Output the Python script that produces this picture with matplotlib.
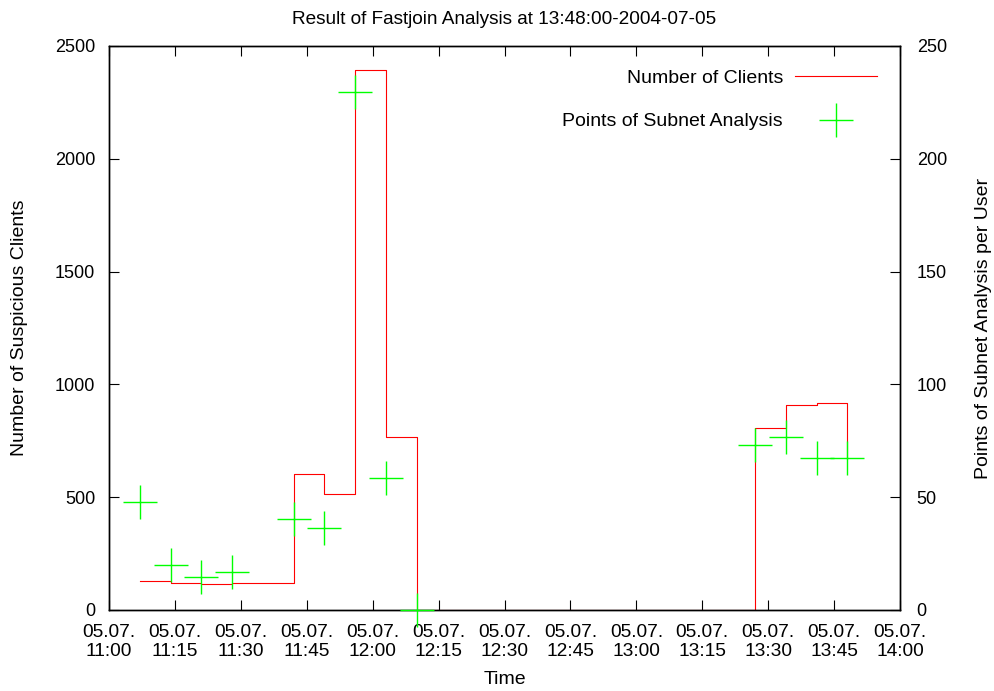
import matplotlib
matplotlib.use("Agg")
import matplotlib.pyplot as plt
from matplotlib.lines import Line2D

plt.rcParams['font.family'] = ['Liberation Sans', 'DejaVu Sans']
plt.rcParams['font.size'] = 14

# Sample times (05.07.2004) and measured values
times = ["11:07", "11:14", "11:21", "11:28", "11:42", "11:49", "11:56",
         "12:03", "12:10", "13:27", "13:34", "13:41", "13:48"]
clients = [130, 120, 114, 118, 603, 513, 2395, 767, 0, 805, 909, 918, 680]
points = [48, 20, 14.5, 16.7, 40.5, 36.2, 229.5, 58.4, 0, 73.1, 76.8, 67.2, 67.5]

tick_times = ["11:00", "11:15", "11:30", "11:45", "12:00", "12:15", "12:30",
              "12:45", "13:00", "13:15", "13:30", "13:45", "14:00"]
tick_labels = ["05.07.\n" + t for t in tick_times]


def minutes(t):
    h, m = t.split(":")
    return int(h) * 60 + int(m)


x = [minutes(t) for t in times]
xt = [minutes(t) for t in tick_times]

fig = plt.figure(figsize=(9.95, 6.91), dpi=100)
ax = fig.add_axes([109 / 995, 1 - 610 / 691, 791 / 995, 564 / 691])
ax2 = ax.twinx()

ax.step(x, clients, where='post', color='#ff0000', lw=0.8)
ax2.plot(x, points, ls='none', marker='+', ms=24.5, mew=1.0,
         color='#00ff00', clip_on=False, zorder=5)

ax.set_xlim(xt[0], xt[-1])
ax.set_ylim(0, 2500)
ax2.set_ylim(0, 250)
ax.set_xticks(xt)
ax.set_xticklabels(tick_labels, linespacing=1.15, fontsize=13.8)
ax.set_yticks(range(0, 2501, 500))
ax2.set_yticks(range(0, 251, 50))
ax.tick_params(axis='y', labelsize=13)
ax2.tick_params(axis='y', labelsize=13)

for a in (ax, ax2):
    for s in a.spines.values():
        s.set_linewidth(1.0)
ax.tick_params(axis='x', direction='in', length=7, width=0.8, top=True, pad=10)
ax.tick_params(axis='y', direction='in', length=7, width=0.8, pad=10)
ax2.tick_params(axis='y', direction='in', length=7, width=0.8, pad=12)

ax.set_title("Result of Fastjoin Analysis at 13:48:00-2004-07-05",
             fontsize=13.7, pad=16)
ax.set_xlabel("Time", labelpad=8)
ax.set_ylabel("Number of Suspicious Clients", labelpad=19)
ax2.set_ylabel("Points of Subnet Analysis per User", rotation=90,
               labelpad=20, fontsize=14)

handles = [Line2D([], [], color='#ff0000', lw=0.8),
           Line2D([], [], ls='none', marker='+', ms=24.5, mew=1.0, color='#00ff00')]
ax2.legend(handles, ["Number of Clients", "Points of Subnet Analysis"],
           loc='upper right', frameon=False, markerfirst=False,
           handlelength=4.2, handletextpad=0.62, labelspacing=1.33,
           borderpad=0, borderaxespad=1.2)

fig.savefig("out.png", dpi=100)
